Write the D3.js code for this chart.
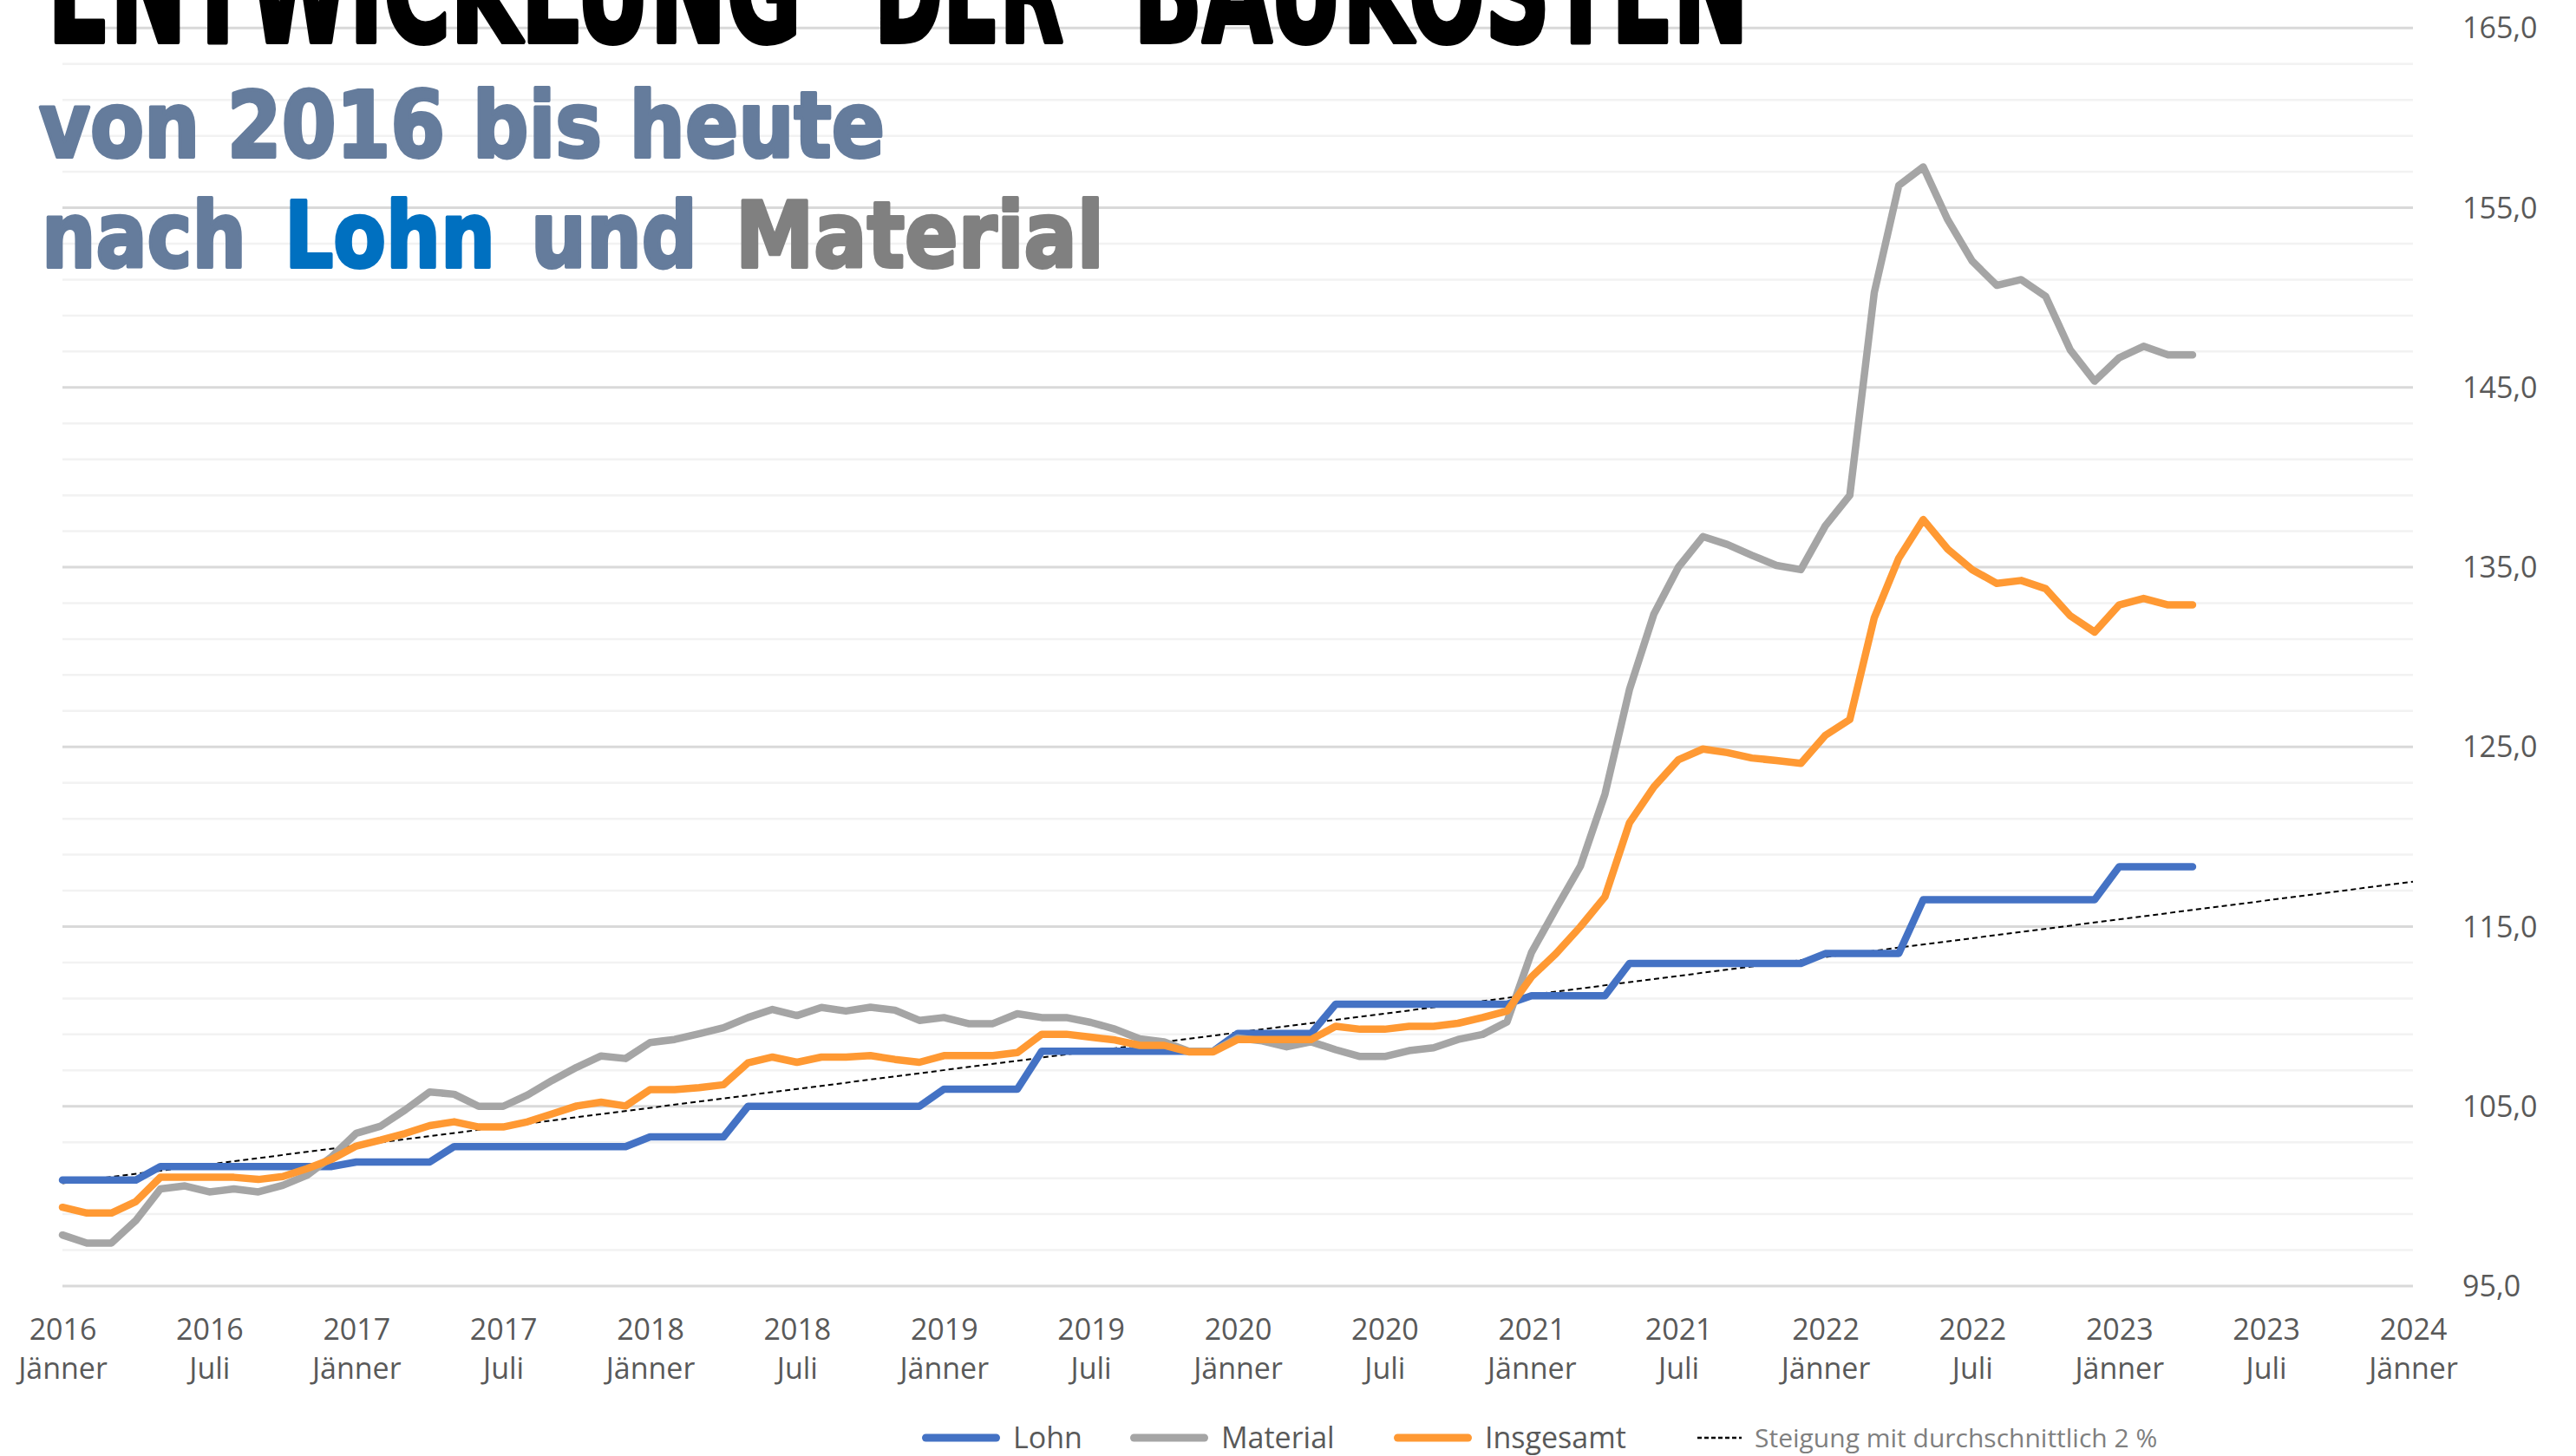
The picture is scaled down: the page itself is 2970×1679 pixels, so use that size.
<!DOCTYPE html>
<html>
<head>
<meta charset="utf-8">
<script src="https://cdn.jsdelivr.net/npm/d3@7"></script>
<style>
  body { margin: 0; background: #fff; }
  svg { display: block; }
</style>
</head>
<body>
<div id="viz"></div>
<script>
// Monatswerte Jänner 2016 bis April 2023 (Index, Basis 2015 = 100)
const lohn = [
  100.9, 100.9, 100.9, 100.9, 101.65, 101.65, 101.65, 101.65, 101.65, 101.65, 101.65, 101.65,
  101.9, 101.9, 101.9, 101.9, 102.76, 102.76, 102.76, 102.76, 102.76, 102.76, 102.76, 102.76,
  103.3, 103.3, 103.3, 103.3, 105.0, 105.0, 105.0, 105.0, 105.0, 105.0, 105.0, 105.0,
  105.95, 105.95, 105.95, 105.95, 108.07, 108.07, 108.07, 108.07, 108.07, 108.07, 108.07, 108.07,
  109.05, 109.05, 109.05, 109.05, 110.68, 110.68, 110.68, 110.68, 110.68, 110.68, 110.68, 110.68,
  111.15, 111.15, 111.15, 111.15, 112.95, 112.95, 112.95, 112.95, 112.95, 112.95, 112.95, 112.95,
  113.5, 113.5, 113.5, 113.5, 116.5, 116.5, 116.5, 116.5, 116.5, 116.5, 116.5, 116.5,
  118.33, 118.33, 118.33, 118.33
];

const material = [
  97.84, 97.39, 97.39, 98.65, 100.4, 100.57, 100.24, 100.4, 100.24, 100.6, 101.17, 102.2,
  103.5, 103.9, 104.8, 105.8, 105.67, 105.0, 105.0, 105.63, 106.44, 107.17, 107.8, 107.66,
  108.55, 108.72, 109.04, 109.37, 109.94, 110.39, 110.05, 110.5, 110.3, 110.51, 110.35, 109.78,
  109.94, 109.6, 109.6, 110.15, 109.94, 109.94, 109.67, 109.29, 108.75, 108.59, 108.07, 108.07,
  108.8, 108.64, 108.31, 108.59, 108.15, 107.77, 107.77, 108.1, 108.26, 108.72, 109.0, 109.7,
  113.56, 116.0, 118.37, 122.37, 128.19, 132.4, 135.0, 136.7, 136.26, 135.66, 135.1, 134.86,
  137.3, 139.0, 150.28, 156.24, 157.27, 154.33, 152.03, 150.68, 151.0, 150.07, 147.1, 145.35,
  146.65, 147.29, 146.81, 146.81
];

const insgesamt = [
  99.38, 99.06, 99.06, 99.7, 101.05, 101.05, 101.05, 101.05, 100.93, 101.09, 101.54, 102.06,
  102.79, 103.12, 103.49, 103.93, 104.14, 103.85, 103.85, 104.14, 104.58, 105.02, 105.23, 105.02,
  105.93, 105.93, 106.04, 106.2, 107.42, 107.74, 107.45, 107.74, 107.74, 107.82, 107.61, 107.45,
  107.82, 107.82, 107.82, 107.99, 109.01, 109.01, 108.85, 108.69, 108.39, 108.39, 108.03, 108.03,
  108.72, 108.72, 108.72, 108.72, 109.45, 109.29, 109.29, 109.45, 109.45, 109.62, 109.94, 110.3,
  112.2, 113.5, 115.0, 116.66, 120.77, 122.78, 124.28, 124.88, 124.68, 124.38, 124.24, 124.08,
  125.64, 126.52, 132.19, 135.5, 137.65, 136.0, 134.86, 134.1, 134.26, 133.8, 132.3, 131.39,
  132.9, 133.26, 132.9, 132.9
];

// Steigungslinie: Monatsindex und Wert an Anfang und Ende
const trendMonths = [0, 96];
const trendValues = [100.72, 117.5];

const tickMonths = [0, 6, 12, 18, 24, 30, 36, 42, 48, 54, 60, 66, 72, 78, 84, 90, 96];
const tickYears = ["2016", "2016", "2017", "2017", "2018", "2018", "2019", "2019", "2020",
  "2020", "2021", "2021", "2022", "2022", "2023", "2023", "2024"];
const tickNames = ["Jänner", "Juli", "Jänner", "Juli", "Jänner", "Juli", "Jänner", "Juli", "Jänner",
  "Juli", "Jänner", "Juli", "Jänner", "Juli", "Jänner", "Juli", "Jänner"];
const yTicks = [95, 105, 115, 125, 135, 145, 155, 165];

const seriesNames = ["Lohn", "Material", "Insgesamt"];
const seriesColors = ["#4472C4", "#A5A5A5", "#FF9933"];

const W = 2970, H = 1679;
const plotLeft = 72, plotRight = 2782, plotTop = 32.3, plotBottom = 1483;
const font = "'Open Sans', sans-serif";
const textGrey = "#595959";

const svg = d3.select("#viz").append("svg")
  .attr("width", W)
  .attr("height", H);

svg.append("rect").attr("width", W).attr("height", H).attr("fill", "#fff");

const x = d3.scaleLinear().domain([0, 96]).range([plotLeft, plotRight]);
const y = d3.scaleLinear().domain([95, 165]).range([plotBottom, plotTop]);

// Gitternetz: Hauptlinien alle 10, Hilfslinien alle 2
svg.append("g")
  .selectAll("line")
  .data(d3.range(95, 166, 2))
  .enter()
  .append("line")
  .attr("x1", plotLeft)
  .attr("x2", plotRight)
  .attr("y1", d => y(d))
  .attr("y2", d => y(d))
  .attr("stroke", d => (d - 95) % 10 === 0 ? "#D9D9D9" : "#F2F2F2")
  .attr("stroke-width", d => (d - 95) % 10 === 0 ? 3 : 2.5);

// Titel (oben angeschnitten wie im Original)
const titleWords = [
  {t: "ENTWICKLUNG", x: 55, w: 869},
  {t: "DER", x: 1008, w: 218},
  {t: "BAUKOSTEN", x: 1307, w: 709}
];
svg.append("g")
  .selectAll("text")
  .data(titleWords)
  .enter()
  .append("text")
  .attr("x", d => d.x)
  .attr("y", 48)
  .attr("font-family", "'DejaVu Sans', sans-serif")
  .attr("font-weight", "bold")
  .attr("font-size", 165)
  .attr("textLength", d => d.w)
  .attr("lengthAdjust", "spacingAndGlyphs")
  .attr("fill", "#000")
  .attr("stroke", "#000")
  .attr("stroke-width", 6)
  .attr("stroke-linejoin", "round")
  .text(d => d.t);

const subParts = [
  {t: "von 2016 bis heute", x: 45, y: 181, w: 975, c: "#657C9C"},
  {t: "nach", x: 48, y: 308, w: 236, c: "#657C9C"},
  {t: "Lohn", x: 328, y: 308, w: 243, c: "#0070C0"},
  {t: "und", x: 612, y: 308, w: 192, c: "#657C9C"},
  {t: "Material", x: 848, y: 308, w: 425, c: "#808080"}
];
svg.append("g")
  .selectAll("text")
  .data(subParts)
  .enter()
  .append("text")
  .attr("x", d => d.x)
  .attr("y", d => d.y)
  .attr("font-family", "'DejaVu Sans', sans-serif")
  .attr("font-weight", "bold")
  .attr("font-size", 106)
  .attr("textLength", d => d.w)
  .attr("lengthAdjust", "spacingAndGlyphs")
  .attr("fill", d => d.c)
  .attr("stroke", d => d.c)
  .attr("stroke-width", 4)
  .attr("stroke-linejoin", "round")
  .text(d => d.t);

// x-Achse
const xAxis = svg.append("g")
  .attr("transform", `translate(0,${plotBottom})`)
  .call(d3.axisBottom(x).tickValues(tickMonths).tickSize(0).tickFormat(""));
xAxis.select(".domain").remove();
xAxis.selectAll(".tick text").remove();
xAxis.selectAll(".tick").each(function (d, i) {
  const t = d3.select(this).append("text")
    .attr("text-anchor", "middle")
    .attr("font-family", font)
    .attr("font-size", 34)
    .attr("fill", textGrey);
  t.append("tspan").attr("x", 0).attr("y", 62).text(tickYears[i]);
  t.append("tspan").attr("x", 0).attr("y", 107).text(tickNames[i]);
});

// rechte y-Achse
const yAxis = svg.append("g")
  .attr("transform", `translate(2839,0)`)
  .call(d3.axisRight(y).tickValues(yTicks).tickSize(0).tickPadding(0)
    .tickFormat(d => d3.format(".1f")(d).replace(".", ",")));
yAxis.select(".domain").remove();
yAxis.selectAll(".tick text")
  .attr("font-family", font)
  .attr("font-size", 34)
  .attr("fill", textGrey)
  .attr("text-anchor", "start")
  .attr("dy", "0.34em");

// Steigungslinie
svg.append("line")
  .attr("x1", x(trendMonths[0]))
  .attr("x2", x(trendMonths[1]))
  .attr("y1", y(trendValues[0]))
  .attr("y2", y(trendValues[1]))
  .attr("stroke", "#000")
  .attr("stroke-width", 2)
  .attr("stroke-dasharray", "6,4");

// Linien
const line = d3.line()
  .x((d, i) => x(i))
  .y(d => y(d));

[lohn, material, insgesamt].forEach((vals, k) => {
  svg.append("path")
    .datum(vals)
    .attr("d", line)
    .attr("fill", "none")
    .attr("stroke", seriesColors[k])
    .attr("stroke-width", 8.5)
    .attr("stroke-linejoin", "round")
    .attr("stroke-linecap", "round");
});

// Legende
const legendY = 1658;
const legendX = [1063, 1303, 1607];
seriesNames.forEach((name, k) => {
  svg.append("line")
    .attr("x1", legendX[k] + 4.5)
    .attr("x2", legendX[k] + 85.5)
    .attr("y1", legendY)
    .attr("y2", legendY)
    .attr("stroke", seriesColors[k])
    .attr("stroke-width", 9)
    .attr("stroke-linecap", "round");
  svg.append("text")
    .attr("x", legendX[k] + 105)
    .attr("y", legendY + 12)
    .attr("font-family", font)
    .attr("font-size", 34)
    .attr("fill", textGrey)
    .text(name);
});
svg.append("line")
  .attr("x1", 1957)
  .attr("x2", 2008)
  .attr("y1", legendY)
  .attr("y2", legendY)
  .attr("stroke", "#000")
  .attr("stroke-width", 2.5)
  .attr("stroke-dasharray", "5,3");
svg.append("text")
  .attr("x", 2023)
  .attr("y", legendY + 11)
  .attr("font-family", font)
  .attr("font-size", 30)
  .attr("fill", "#7F7F7F")
  .text("Steigung mit durchschnittlich 2 %");
</script>
</body>
</html>
